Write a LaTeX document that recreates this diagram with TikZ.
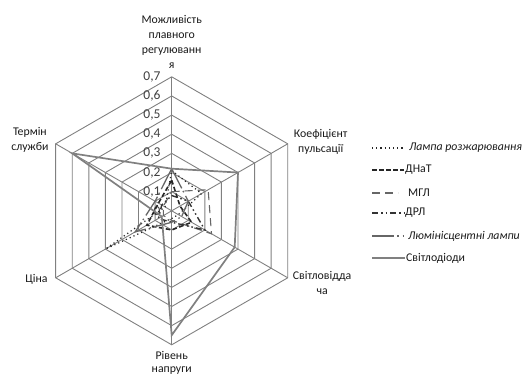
\documentclass[tikz,border=0pt]{standalone}
\usepackage{fontspec}
\setmainfont{Carlito}
\usetikzlibrary{positioning}
\tikzset{
  gridline/.style={draw=black!50, line width=0.9pt},
  axislabel/.style={align=center, text=black!90, font=\fontsize{11.8}{15}\selectfont, inner sep=0pt},
  ticklabel/.style={anchor=east, text=black!75, font=\fontsize{13.5}{14}\selectfont, inner sep=0pt},
  legendtext/.style={anchor=west, text=black!90, font=\fontsize{11.8}{12}\selectfont, inner sep=0pt},
  lampa/.style={draw=black!85, line width=1.2pt, dash pattern=on 1.2pt off 3pt},
  dnat/.style={draw=black!85, line width=1.6pt, dash pattern=on 4.5pt off 2.5pt},
  mgl/.style={draw=black!60, line width=1.1pt, dash pattern=on 8pt off 5pt},
  drl/.style={draw=black!80, line width=1.4pt, dash pattern=on 6pt off 3pt on 1.5pt off 3pt on 1.5pt off 3pt},
  lum/.style={draw=black!60, line width=1.3pt, dash pattern=on 22pt off 3pt on 1.5pt off 4pt},
  led/.style={draw=black!50, line width=1.7pt},
}

\begin{document}
\begin{tikzpicture}[x=1pt,y=1pt]
\useasboundingbox (0,0) rectangle (524,378);
\def\R{191.4}
\begin{scope}[shift={(171.7,167.2)}]
  \coordinate (c) at (0,0);
  \foreach \a [count=\i] in {90,30,-30,-90,210,150}
    \coordinate (ax\i) at (\a:0.7*\R);
  % grid
  \foreach \k in {1,...,7}
    \draw[gridline] (90:\k*0.1*\R) -- (30:\k*0.1*\R) -- (-30:\k*0.1*\R)
      -- (-90:\k*0.1*\R) -- (210:\k*0.1*\R) -- (150:\k*0.1*\R) -- cycle;
  \foreach \i in {1,...,6}
    \draw[gridline] (c) -- (ax\i);
  \node[ticklabel] (tick0) at (-11,0) {0};
  \foreach \k in {1,...,7}
    \node[ticklabel] (tick\k) at (-11,\k*0.1*\R) {0,\k};

  % axis labels
  \node[axislabel, anchor=south] (lblreg) at ([yshift=8]ax1) {Можливість\\плавного\\регулюванн\\я};
  \node[axislabel, anchor=west] (lblpuls) at ([xshift=6,yshift=2]ax2) {Коефіцієнт\\пульсації};
  \node[axislabel, anchor=west] (lblsvit) at ([xshift=5,yshift=-5]ax3) {Світловідда\\ча};
  \node[axislabel, anchor=north, font=\fontsize{11.8}{13.5}\selectfont] (lblnapr) at ([yshift=-6]ax4) {Рівень\\напруги};
  \node[axislabel, anchor=east] (lblcina) at ([xshift=-8,yshift=-2]ax5) {Ціна};
  \node[axislabel, anchor=east] (lblterm) at ([xshift=-7,yshift=4]ax6) {Термін\\служби};

  % series
  \draw[lampa] (90:0.21*\R) -- (30:0.18*\R) -- (-30:0.04*\R) -- (-90:0.04*\R)
    -- (210:0.40*\R) -- (150:0.04*\R) -- cycle;
  \draw[dnat] (90:0.16*\R) -- (30:0.05*\R) -- (-30:0.12*\R) -- (-90:0.10*\R)
    -- (210:0.15*\R) -- (150:0.08*\R) -- cycle;
  \draw[mgl] (90:0.10*\R) -- (30:0.22*\R) -- (-30:0.24*\R) -- (-90:0.05*\R)
    -- (210:0.05*\R) -- (150:0.05*\R) -- cycle;
  \draw[drl] (90:0.08*\R) -- (30:0.10*\R) -- (-30:0.20*\R) -- (-90:0.06*\R)
    -- (210:0.08*\R) -- (150:0.06*\R) -- cycle;
  \draw[lum] (90:0.22*\R) -- (30:0.10*\R) -- (-30:0.06*\R) -- (-90:0.06*\R)
    -- (210:0.22*\R) -- (150:0.10*\R) -- cycle;
  \draw[led] (90:0.22*\R) -- (30:0.40*\R) -- (-30:0.38*\R) -- (-90:0.65*\R)
    -- (210:0.06*\R) -- (150:0.60*\R) -- cycle;
\end{scope}

% legend
\node[legendtext] (leg1) at (409,230) {\itshape Лампа розжарювання};
\node[legendtext] (leg2) at (405,208) {ДНаТ};
\node[legendtext] (leg3) at (408,185) {МГЛ};
\node[legendtext] (leg4) at (405,165) {ДРЛ};
\node[legendtext] (leg5) at (408,142) {\itshape Люмінісцентні лампи};
\node[legendtext] (leg6) at (406,120) {Світлодіоди};
\coordinate (s1) at (372,230);
\coordinate (s2) at (372,208);
\coordinate (s3) at (372,185);
\coordinate (s4) at (372,165);
\coordinate (s5) at (372,142);
\coordinate (s6) at (372,120);
\draw[lampa] (s1) -- ([xshift=-4]leg1.west);
\draw[dnat] (s2) -- ([xshift=-1]leg2.west);
\draw[mgl] (s3) -- ([xshift=-10]leg3.west);
\draw[drl] (s4) -- ([xshift=-1]leg4.west);
\draw[lum] (s5) -- ([xshift=-4]leg5.west);
\draw[led] (s6) -- ([xshift=-1]leg6.west);
\end{tikzpicture}
\end{document}
